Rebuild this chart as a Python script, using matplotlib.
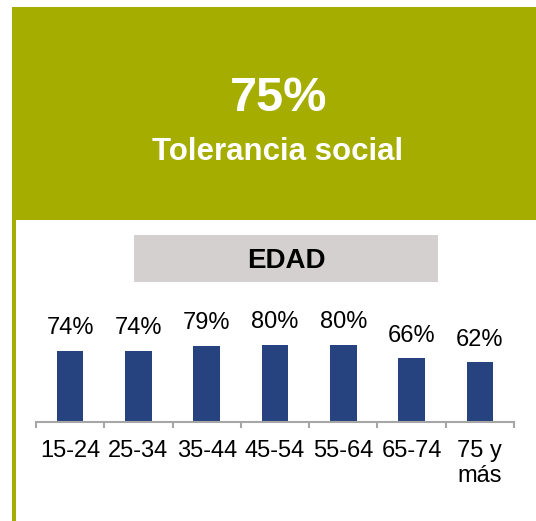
import numpy as np
import matplotlib
matplotlib.use('Agg')
import matplotlib.pyplot as plt
from matplotlib.patches import Rectangle

plt.rcParams['font.family'] = ['Liberation Sans', 'DejaVu Sans']

# data
age_groups = ['15-24', '25-34', '35-44', '45-54', '55-64', '65-74', '75 y\nmás']
tolerance_pct = [74, 74, 79, 80, 80, 66, 62]
headline_value = '75%'
headline_label = 'Tolerancia social'
panel_title = 'EDAD'

W, H = 536, 521
GREEN = '#A5AD00'
NAVY = '#27437F'
GRAY_BOX = '#D4D0CF'
AXIS_GRAY = '#A6A6A6'

fig = plt.figure(figsize=(W / 100, H / 100), dpi=100)
fig.patch.set_facecolor('white')


def box(x0, y0, x1, y1, color):
    # pixel coords measured from the top left corner
    fig.patches.append(Rectangle((x0 / W, 1 - y1 / H), (x1 - x0) / W,
                                 (y1 - y0) / H, transform=fig.transFigure,
                                 facecolor=color, edgecolor='none', zorder=0))


# green header block and left border stripe
box(12, 7, 536, 220, GREEN)
box(12, 220, 16, 521, GREEN)
# gray label box
box(134, 235, 438, 282, GRAY_BOX)

fig.text(279 / W, 1 - 111 / H, headline_value, color='white',
         fontsize=35, fontweight='bold', ha='center', va='baseline')
fig.text(277.5 / W, 1 - 160 / H, headline_label, color='white',
         fontsize=22.5, fontweight='bold', ha='center', va='baseline')
fig.text(286.5 / W, 1 - 268.5 / H, panel_title, color='black',
         fontsize=20, fontweight='bold', ha='center', va='baseline')

# bar chart
base_px, top_px = 422.3, 325.5
ax = fig.add_axes([36 / W, 1 - base_px / H, (514 - 36) / W,
                   (base_px - top_px) / H])
ax.patch.set_alpha(0)
x = np.arange(len(age_groups))
bars = ax.bar(x, tolerance_pct, width=0.39, color=NAVY, zorder=2)
ax.set_xlim(-0.5, len(age_groups) - 0.5)
ax.set_ylim(0, 100)

for xi, v in zip(x, tolerance_pct):
    ax.annotate('{}%'.format(v), (xi, v), xytext=(0, 12),
                textcoords='offset points', ha='center', va='baseline',
                fontsize=17, color='black', annotation_clip=False)

for side in ['left', 'right', 'top']:
    ax.spines[side].set_visible(False)
ax.spines['bottom'].set_color(AXIS_GRAY)
ax.spines['bottom'].set_linewidth(1.5)
ax.set_yticks([])

ax.set_xticks(x)
ax.set_xticklabels(age_groups, fontsize=17, color='black', linespacing=1.2)
ax.tick_params(axis='x', which='major', length=0, pad=12.5)
ax.set_xticks(np.arange(len(age_groups) + 1) - 0.5, minor=True)
ax.tick_params(axis='x', which='minor', length=4.5, width=1.5,
               color=AXIS_GRAY, direction='out')

fig.savefig('out.png', dpi=100)
